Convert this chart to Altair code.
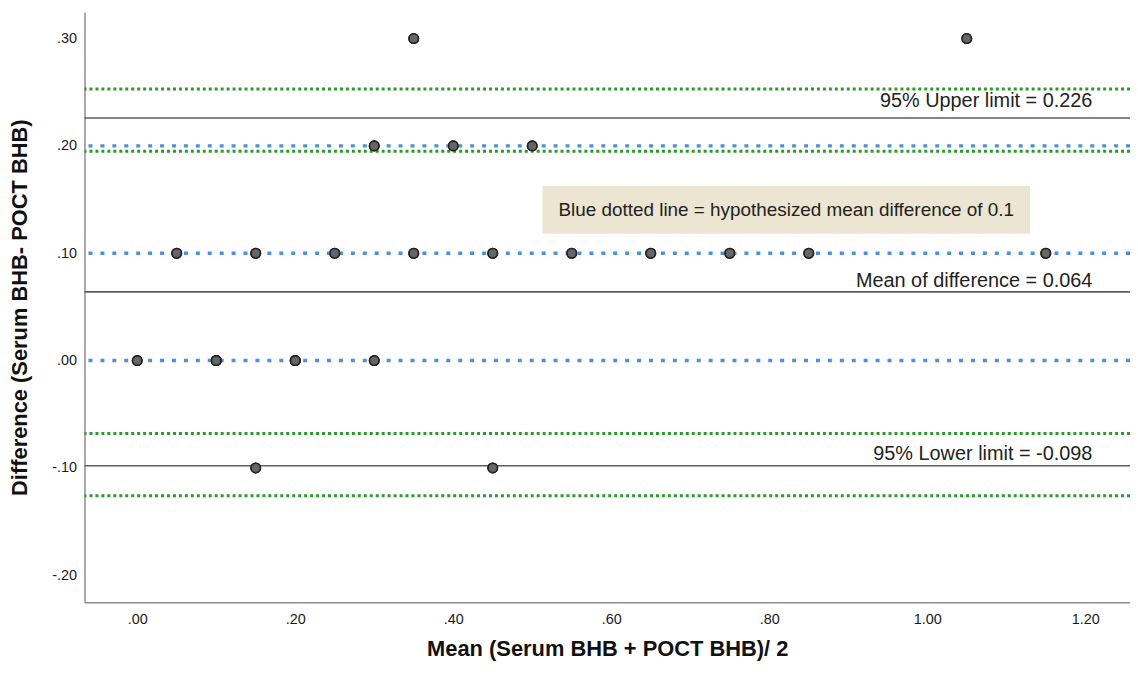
import altair as alt
import pandas as pd

# Scatter data (mean of methods, difference)
mean_vals = [0.35, 1.05,
             0.30, 0.40, 0.50,
             0.05, 0.15, 0.25, 0.35, 0.45, 0.55, 0.65, 0.75, 0.85, 1.15,
             0.00, 0.10, 0.10, 0.20, 0.20, 0.30,
             0.15, 0.45]
diff_vals = [0.30, 0.30,
             0.20, 0.20, 0.20,
             0.10, 0.10, 0.10, 0.10, 0.10, 0.10, 0.10, 0.10, 0.10, 0.10,
             0.00, 0.00, 0.00, 0.00, 0.00, 0.00,
             -0.10, -0.10]

# Bland-Altman lines
limit_vals = [0.226, 0.064, -0.098]
limit_labels = ["95% Upper limit = 0.226", "Mean of difference = 0.064", "95% Lower limit = -0.098"]
label_dy = [-17, -11, -12]
ci_vals = [0.253, 0.195, -0.068, -0.126]
hyp_vals = [0.0, 0.1, 0.2]
note_text = "Blue dotted line = hypothesized mean difference of 0.1"

X_DOMAIN = [-0.0667, 1.2566]
Y_DOMAIN = [-0.2252, 0.3247]
W, H = 1052, 594
FONT = "Liberation Sans"

pts = pd.DataFrame({"m": mean_vals, "d": diff_vals})
lim = pd.DataFrame({"y": limit_vals, "label": limit_labels, "x": [1.209] * 3})
ci = pd.DataFrame({"y": ci_vals})
hyp = pd.DataFrame({"y": hyp_vals})
note = pd.DataFrame({"x1": [0.513], "x2": [1.13], "y1": [0.1627], "y2": [0.1182],
                     "xc": [0.8215], "yc": [0.1404], "t": [note_text]})

lab_expr = ("(datum.value < 0 ? '-' : '') + (abs(datum.value) >= 1 ? format(abs(datum.value), '.2f') "
            ": substring(format(abs(datum.value), '.2f'), 1))")

xsc = alt.Scale(domain=X_DOMAIN, nice=False, zero=False)
ysc = alt.Scale(domain=Y_DOMAIN, nice=False, zero=False)

xax = alt.Axis(values=[0, 0.2, 0.4, 0.6, 0.8, 1.0, 1.2], labelExpr=lab_expr, ticks=False, tickSize=0,
               grid=False, labelPadding=10, labelFontSize=14.5, labelColor="#1a1a1a", labelFont=FONT,
               domainColor="#8c8c8c", domainWidth=1.5,
               title="Mean (Serum BHB + POCT BHB)/ 2", titleFont=FONT, titleFontSize=22,
               titleFontWeight="bold", titleColor="#111", titleY=46, titleBaseline="middle")
yax = alt.Axis(values=[-0.2, -0.1, 0, 0.1, 0.2, 0.3], labelExpr=lab_expr, ticks=False, tickSize=0,
               grid=False, labelPadding=8, labelFontSize=14.5, labelColor="#1a1a1a", labelFont=FONT,
               domainColor="#8c8c8c", domainWidth=1.5,
               title="Difference (Serum BHB- POCT BHB)", titleFont=FONT, titleFontSize=22,
               titleFontWeight="bold", titleColor="#111", titleAngle=270, titleX=-65, titleY=H / 2,
               titleAlign="center", titleBaseline="middle")

base_pts = alt.Chart(pts).mark_point(filled=True, fill="#666666", stroke="#222222", strokeWidth=1.6,
                                     size=90, opacity=1, shape="circle").encode(
    x=alt.X("m:Q", scale=xsc, axis=xax),
    y=alt.Y("d:Q", scale=ysc, axis=yax),
)

box = alt.Chart(note).mark_rect(color="#ebe5d1").encode(
    x=alt.X("x1:Q", scale=xsc), x2="x2:Q", y=alt.Y("y1:Q", scale=ysc), y2="y2:Q")
box_text = alt.Chart(note).mark_text(font=FONT, fontSize=19, color="#222", align="center",
                                     baseline="middle").encode(
    x=alt.X("xc:Q", scale=xsc), y=alt.Y("yc:Q", scale=ysc), text="t:N")

ci_rules = alt.Chart(ci).mark_rule(color="#2a9a2a", strokeWidth=3, strokeDash=[3, 3]).encode(
    y=alt.Y("y:Q", scale=ysc))
hyp_rules = alt.Chart(hyp).mark_rule(color="#4a90e2", strokeWidth=3.5, strokeDash=[4, 8]).encode(
    y=alt.Y("y:Q", scale=ysc))
lim_rules = alt.Chart(lim).mark_rule(color="#5c5c5c", strokeWidth=1.6).encode(
    y=alt.Y("y:Q", scale=ysc))

lim_texts = []
for i in range(len(limit_vals)):
    lim_texts.append(
        alt.Chart(lim.iloc[[i]]).mark_text(font=FONT, fontSize=20, color="#222", align="right",
                                           baseline="middle", dy=label_dy[i]).encode(
            x=alt.X("x:Q", scale=xsc), y=alt.Y("y:Q", scale=ysc), text="label:N")
    )

chart = alt.layer(base_pts, box, box_text, lim_rules, ci_rules, hyp_rules, *lim_texts, base_pts).properties(
    width=W, height=H,
    autosize=alt.AutoSizeParams(type="none"),
    padding={"left": 77, "top": 2, "right": 0, "bottom": 58},
    background="white",
).configure_view(stroke=None, strokeWidth=0)

chart.save("out.html", embed_options={"renderer": "svg", "actions": False})
